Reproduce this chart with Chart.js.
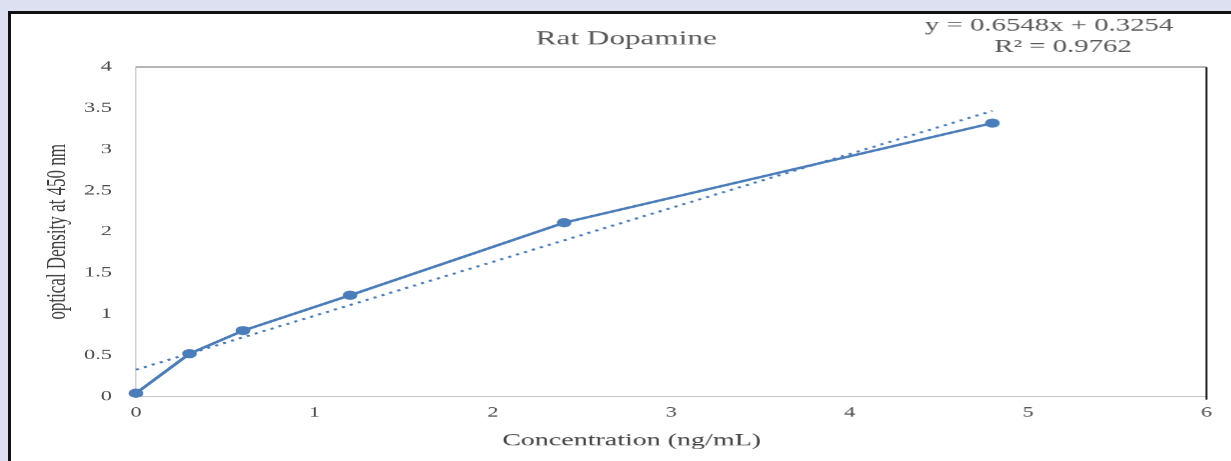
<!DOCTYPE html>
<html>
<head>
<meta charset="utf-8">
<title>Rat Dopamine</title>
<script src="https://cdn.jsdelivr.net/npm/chart.js"></script>
<style>
  html, body { margin: 0; padding: 0; overflow: hidden; }
  body { width: 1231px; height: 461px; background: #dde0f0; position: relative; }
  .panel { position: absolute; left: 8px; top: 11px; width: 1240px; height: 470px; background: #fff; border: 3px solid #111; }
  /* the chart is laid out narrow and stretched sideways, like the exported figure */
  .stretch { position: absolute; left: 0; top: 0; width: 769.375px; height: 461px; transform: scaleX(1.6); transform-origin: 0 0; }
</style>
</head>
<body>
<div class="panel"></div>
<div class="stretch"><canvas id="curve"></canvas></div>
<script>
const concentration = [0, 0.3, 0.6, 1.2, 2.4, 4.8];
const opticalDensity = [0.04, 0.52, 0.80, 1.23, 2.11, 3.32];
const trendSlope = 0.6548;
const trendIntercept = 0.3254;
const rSquared = 0.9762;
const xTicks = [0, 1, 2, 3, 4, 5, 6];
const yTicks = [0, 0.5, 1, 1.5, 2, 2.5, 3, 3.5, 4];

const blue = '#4a7dba';
const serif = "'Liberation Serif', 'Times New Roman', serif";

const points = concentration.map((c, i) => ({ x: c, y: opticalDensity[i] }));
const xFirst = concentration[0];
const xLast = concentration[concentration.length - 1];
const trend = [xFirst, xLast].map(x => ({ x: x, y: trendSlope * x + trendIntercept }));

// titles, equation and the top/right edges of the plot box
const frameText = {
    id: 'frameText',
    afterDraw(chart) {
        const { ctx, chartArea: a } = chart;
        ctx.save();
        ctx.lineWidth = 1.5;
        ctx.strokeStyle = '#a6a6a6';
        ctx.beginPath();
        ctx.moveTo(a.left, a.top);
        ctx.lineTo(a.right, a.top);
        ctx.stroke();
        ctx.lineWidth = 1.2;
        ctx.strokeStyle = '#1a1a1a';
        ctx.beginPath();
        ctx.moveTo(a.right, a.top);
        ctx.lineTo(a.right, a.bottom + 3);
        ctx.stroke();

        ctx.textAlign = 'center';
        ctx.textBaseline = 'middle';
        ctx.fillStyle = '#595959';
        ctx.font = '19.5px ' + serif;
        ctx.fillText('Rat Dopamine', a.left + a.width * 0.458, 39);
        ctx.font = '18px ' + serif;
        ctx.fillText('y = ' + trendSlope + 'x + ' + trendIntercept, a.left + a.width * 0.853, 26);
        ctx.fillText('R\u00b2 = ' + rSquared, a.left + a.width * 0.866, 47);
        ctx.fillStyle = '#404040';
        ctx.font = '17.5px ' + serif;
        ctx.fillText('Concentration (ng/mL)', a.left + a.width * 0.463, a.bottom + 44);
        ctx.restore();
    }
};

Chart.defaults.font.family = serif;
Chart.defaults.plugins.legend.display = false;

new Chart(document.getElementById('curve'), {
    type: 'line',
    data: {
        datasets: [{
            label: 'Rat Dopamine',
            data: points,
            borderColor: blue,
            backgroundColor: blue,
            borderWidth: 2.4,
            pointRadius: 4.6,
            pointBorderWidth: 0,
            tension: 0,
            clip: false
        }, {
            label: 'Linear fit',
            data: trend,
            borderColor: blue,
            borderWidth: 2,
            borderDash: [2, 3.5],
            pointRadius: 0,
            clip: false
        }]
    },
    options: {
        responsive: true,
        maintainAspectRatio: false,
        animation: false,
        devicePixelRatio: 1.6,
        layout: { padding: { top: 67, right: 15, bottom: 32, left: 0 } },
        plugins: { tooltip: { enabled: false } },
        scales: {
            x: {
                type: 'linear',
                min: 0,
                max: 6,
                afterBuildTicks: s => { s.ticks = xTicks.map(v => ({ value: v })); },
                grid: { display: false, drawTicks: false },
                border: { display: true, color: '#c8c8c8', width: 1.2 },
                ticks: { padding: 8, color: '#4d4d4d', font: { size: 14 }, callback: v => String(v) }
            },
            y: {
                type: 'linear',
                min: 0,
                max: 4,
                afterBuildTicks: s => { s.ticks = yTicks.map(v => ({ value: v })); },
                afterFit: s => { s.width = 85; },
                grid: { display: false, drawTicks: false },
                border: { display: true, color: '#c8c8c8', width: 0.8 },
                ticks: { padding: 15, color: '#4d4d4d', font: { size: 14 }, callback: v => String(v) },
                title: {
                    display: true,
                    text: 'optical Density at 450 nm',
                    color: '#404040',
                    font: { size: 17 },
                    padding: { top: 25.8, bottom: 0 }
                }
            }
        }
    },
    plugins: [frameText]
});
</script>
</body>
</html>
